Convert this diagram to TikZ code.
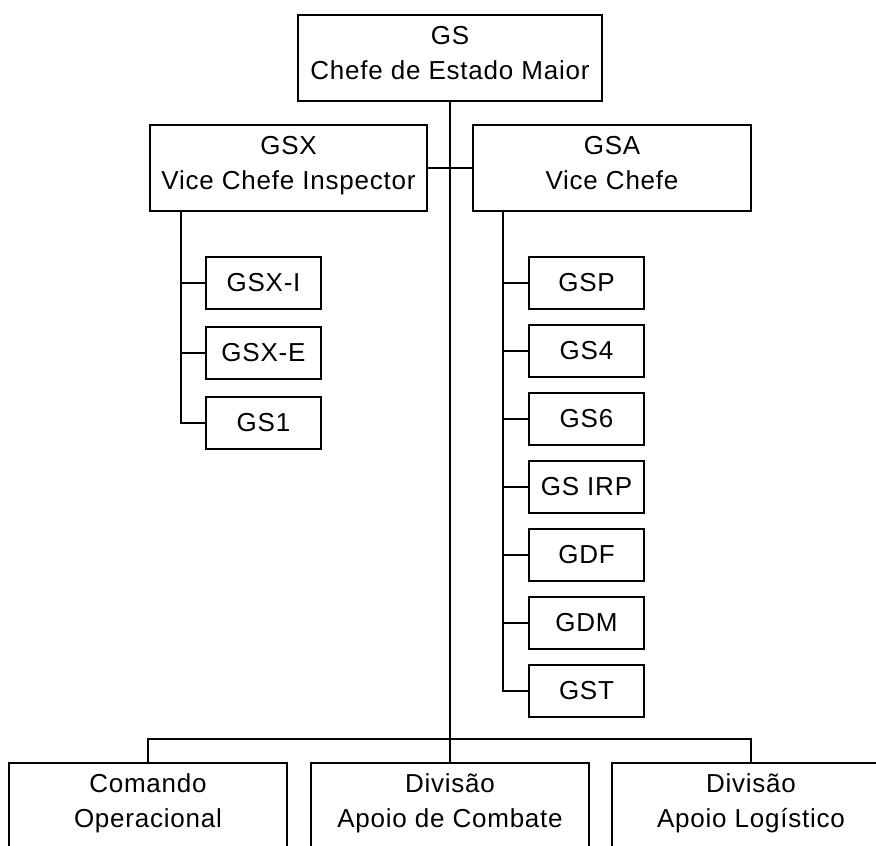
\documentclass[tikz,border=0pt]{standalone}
\usepackage{fontspec}
\setmainfont{Liberation Sans}[LetterSpace=3]
\usepackage{tikz}
\usetikzlibrary{positioning}

\tikzset{
  orgbox/.style={draw, line width=2pt, minimum height=86, inner sep=0pt,
                 align=center, font=\fontsize{26}{35}\selectfont,
                 execute at end node=\strut},
  subbox/.style={draw, line width=2pt, minimum width=115, minimum height=52,
                 inner sep=0pt, font=\fontsize{26}{35}\selectfont},
  link/.style={line width=2pt}
}

\begin{document}
\begin{tikzpicture}[x=1pt, y=-1pt]
        \useasboundingbox (0,0) rectangle (876,846);
        \clip (0,0) rectangle (876,846);
        % top level
        \node[orgbox, minimum width=304] (gs) at (450,58) {GS\\Chefe de Estado Maior};
        \node[orgbox, minimum width=277] (gsx) at (288.5,168) {GSX\\Vice Chefe Inspector};
        \node[orgbox, minimum width=278] (gsa) at (612,168) {GSA\\Vice Chefe};
        \draw[link] (gsx) -- (gsa);
        % GSX column
        \node[subbox] (gsxi) at (263.5,283) {GSX-I};
        \node[subbox, below=16pt of gsxi] (gsxe) {GSX-E};
        \node[subbox, below=16pt of gsxe] (gsone) {GS1};
        \foreach \n in {gsxi,gsxe,gsone}
          \draw[link] ([xshift=32pt]gsx.south west) |- (\n.west);
        % GSA column
        \foreach \name/\txt [count=\i] in {gsp/GSP, gsfour/GS4, gssix/GS6,
            gsirp/GS IRP, gdf/GDF, gdm/GDM, gst/GST}
          \node[subbox] (\name) at (586.5,{283+68*(\i-1)}) {\txt};
        \foreach \n in {gsp,gsfour,gssix,gsirp,gdf,gdm,gst}
          \draw[link] ([xshift=31pt]gsa.south west) |- (\n.west);
        % divisions
        \node[orgbox, minimum width=278] (cop) at (148,806) {Comando\\Operacional};
        \node[orgbox, minimum width=278] (dac) at (450,806) {Divisão\\Apoio de Combate};
        \node[orgbox, minimum width=278] (dal) at (751,806) {Divisão\\Apoio Logístico};
        \draw[link] (gs) -- (dac);
        \draw[link] (cop.north) -- ++(0,-23) -| (dal.north);
      \end{tikzpicture}
\end{document}
